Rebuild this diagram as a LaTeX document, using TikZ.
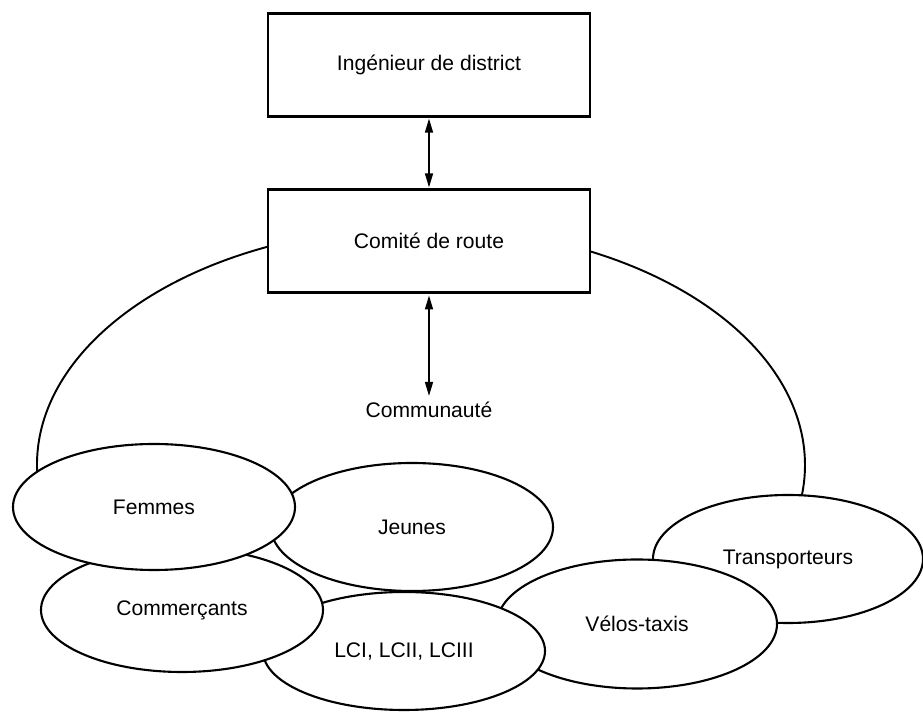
\documentclass[tikz,border=0pt]{standalone}
\usepackage{fontspec}
\setmainfont{Liberation Sans}
\usetikzlibrary{shapes.geometric,arrows.meta}

\begin{document}
\begin{tikzpicture}[every node/.style={font=\fontsize{12}{14}\selectfont},
  box/.style={draw, rectangle, fill=white, line width=1.4pt, minimum width=6.44cm, minimum height=2.06cm},
  group/.style={draw, ellipse, fill=white, line width=1.2pt, inner sep=0pt},
  link/.style={line width=0.9pt, {Triangle[length=0.28cm,width=0.16cm]}-{Triangle[length=0.28cm,width=0.16cm]}}]
\useasboundingbox (0,0) rectangle (18.46,-14.24);

% community ring, only its upper part shows
\coordinate (R) at (8.42,-9.30);
\draw[line width=1.1pt] ([shift={(184:7.68cm and 4.76cm)}]R) arc[start angle=184, end angle=-10, x radius=7.68cm, y radius=4.76cm];

\node[box] (I) at (8.58,-1.30) {Ingénieur de district};
\node[box] (C) at (8.58,-4.82) {Comité de route};
\node (K) at (8.58,-8.20) {Communauté};

\draw[link, shorten <=0.5pt, shorten >=0.5pt] (I) -- (C);
\draw[link, shorten <=1pt] (C) -- (K);

\node[group, minimum width=5.40cm, minimum height=2.56cm] (T) at (15.76,-11.18) {Transporteurs};
\node[group, minimum width=5.60cm, minimum height=2.58cm] (V) at (12.74,-12.48) {Vélos-taxis};
\node[group, minimum width=5.64cm, minimum height=2.36cm] (L) at (8.08,-13.02) {LCI, LCII, LCIII};
\node[group, minimum width=5.64cm, minimum height=2.56cm] (J) at (8.24,-10.54) {Jeunes};
\node[group, minimum width=5.64cm, minimum height=2.48cm] (M) at (3.64,-12.20) {Commerçants};
\node[group, minimum width=5.64cm, minimum height=2.52cm] (F) at (3.08,-10.14) {Femmes};
\end{tikzpicture}
\end{document}
